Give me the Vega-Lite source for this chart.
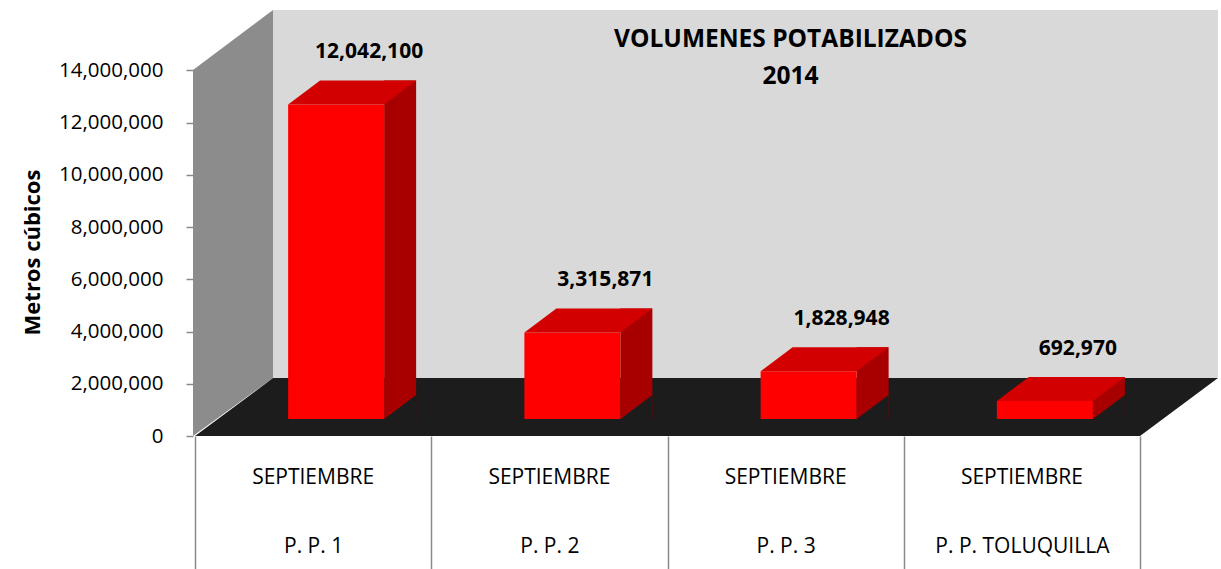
{
  "$schema": "https://vega.github.io/schema/vega-lite/v6.json",
  "width": 945,
  "height": 368,
  "autosize": {"type": "none"},
  "padding": {"left": 273, "top": 10, "right": 3, "bottom": 191},
  "background": "white",
  "config": {
    "view": {"fill": "#d9d9d9", "stroke": null},
    "font": "Open Sans",
    "axis": {"labelFont": "Open Sans", "titleFont": "Open Sans"}
  },
  "title": {
    "text": ["VOLUMENES POTABILIZADOS", "2014"],
    "font": "Open Sans",
    "fontSize": 24.5,
    "fontWeight": "bold",
    "color": "black",
    "anchor": "middle",
    "frame": "group",
    "baseline": "alphabetic",
    "lineHeight": 36.5,
    "offset": 0,
    "dx": 45,
    "dy": 98
  },
  "data": {
    "values": [
      {"planta": "P. P. 1", "mes": "SEPTIEMBRE", "volumen": 12042100},
      {"planta": "P. P. 2", "mes": "SEPTIEMBRE", "volumen": 3315871},
      {"planta": "P. P. 3", "mes": "SEPTIEMBRE", "volumen": 1828948},
      {"planta": "P. P. TOLUQUILLA", "mes": "SEPTIEMBRE", "volumen": 692970}
    ]
  },
  "layer": [
    {
      "data": {"values": [{}]},
      "mark": {"type": "point", "shape": "M 0 0 L 0 -368 L -80 -308 L -80 58 Z", "size": 4, "filled": true, "fill": "#8c8c8c", "opacity": 1, "strokeWidth": 0},
      "encoding": {
        "x": {"datum": "P. P. 1", "bandPosition": 0},
        "y": {"datum": 0}
      }
    },
    {
      "data": {"values": [{}]},
      "mark": {"type": "point", "shape": "M 0 0 L 945 0 L 867 58 L -78 58 Z", "size": 4, "filled": true, "fill": "#1c1c1c", "opacity": 1, "strokeWidth": 0},
      "encoding": {
        "x": {"datum": "P. P. 1", "bandPosition": 0},
        "y": {"datum": 0}
      }
    },
    {
      "mark": {"type": "bar", "width": 32, "xOffset": 9, "yOffset": 17, "y2Offset": 41, "color": "#a80000"},
      "encoding": {
        "x": {"field": "planta", "type": "nominal", "sort": null},
        "y": {"field": "volumen", "type": "quantitative"},
        "y2": {"datum": 0}
      }
    },
    {
      "mark": {"type": "point", "shape": "M 48 0 L 80 0 L 80 -24 Z", "size": 4, "filled": true, "fill": "#1c1c1c", "opacity": 1, "strokeWidth": 0, "xOffset": -55, "yOffset": 41},
      "encoding": {
        "x": {"field": "planta", "type": "nominal", "sort": null},
        "y": {"datum": 0}
      }
    },
    {
      "mark": {"type": "bar", "width": 96, "xOffset": -55, "yOffset": 41, "y2Offset": 41, "color": "#ff0000"},
      "encoding": {
        "x": {
          "field": "planta",
          "type": "nominal",
          "sort": null,
          "scale": {"paddingInner": 0, "paddingOuter": 0},
          "axis": {
            "title": null,
            "orient": "bottom",
            "offset": 58,
            "position": -78,
            "tickBand": "extent",
            "tickSize": 140,
            "tickColor": "#8a8a8a",
            "tickWidth": 1.5,
            "domain": false,
            "grid": false,
            "labelAngle": 0,
            "labelAlign": "center",
            "labelFontSize": 21,
            "labelColor": "black",
            "labelBaseline": "alphabetic",
            "labelPadding": -24
          }
        },
        "y": {
          "field": "volumen",
          "type": "quantitative",
          "scale": {"domain": [0, 14090000], "nice": false},
          "axis": {
            "title": "Metros cúbicos",
            "values": [0, 2000000, 4000000, 6000000, 8000000, 10000000, 12000000, 14000000],
            "format": ",d",
            "offset": 80,
            "position": 58,
            "tickSize": 7,
            "tickColor": "#8a8a8a",
            "tickWidth": 1.5,
            "domain": false,
            "grid": false,
            "labelFontSize": 20.5,
            "labelPadding": 23,
            "labelColor": "black",
            "titleFontSize": 22,
            "titleFontWeight": "bold",
            "titleColor": "black",
            "titlePadding": 14
          }
        },
        "y2": {"datum": 0}
      }
    },
    {
      "mark": {"type": "point", "shape": "M -48 0 L 48 0 L 80 -24 L -16 -24 Z", "size": 4, "filled": true, "fill": "#d20000", "opacity": 1, "strokeWidth": 0, "xOffset": -55, "yOffset": 41},
      "encoding": {
        "x": {"field": "planta", "type": "nominal", "sort": null},
        "y": {"field": "volumen", "type": "quantitative"}
      }
    },
    {
      "mark": {"type": "text", "dx": -22, "dy": -5, "baseline": "alphabetic", "align": "center", "fontSize": 21, "fontWeight": "bold", "color": "black"},
      "encoding": {
        "x": {"field": "planta", "type": "nominal", "sort": null},
        "y": {"field": "volumen", "type": "quantitative"},
        "text": {"field": "volumen", "type": "quantitative", "format": ",d"}
      }
    },
    {
      "mark": {"type": "text", "dx": -78, "dy": 106, "baseline": "alphabetic", "align": "center", "fontSize": 21, "color": "black"},
      "encoding": {
        "x": {"field": "planta", "type": "nominal", "sort": null},
        "y": {"datum": 0},
        "text": {"field": "mes"}
      }
    }
  ]
}
